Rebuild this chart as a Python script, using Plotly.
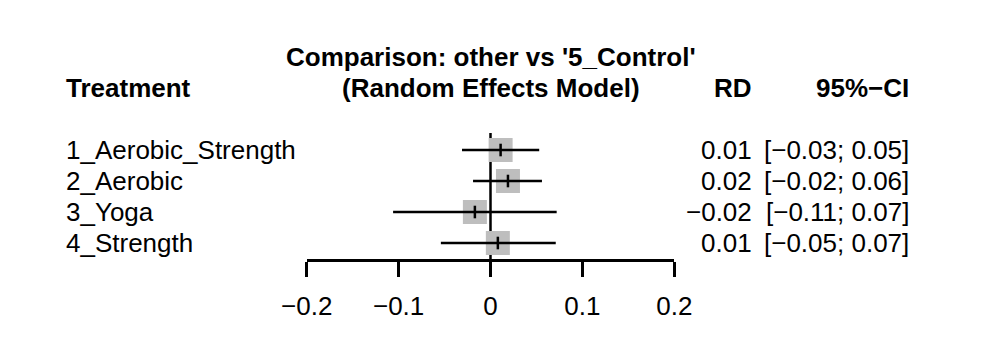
import plotly.graph_objects as go

# ---- data ----
treatments = ["1_Aerobic_Strength", "2_Aerobic", "3_Yoga", "4_Strength"]
rd = [0.011, 0.019, -0.017, 0.008]
ci_lower = [-0.031, -0.019, -0.106, -0.054]
ci_upper = [0.053, 0.056, 0.072, 0.071]
tick_vals = [-0.2, -0.1, 0, 0.1, 0.2]
tick_text = ["\u22120.2", "\u22120.1", "0", "0.1", "0.2"]
title_lines = ["Comparison: other vs '5_Control'", "(Random Effects Model)"]
col_headers = ["Treatment", "RD", "95%\u2212CI"]


def fmt(v):
    return f"{v:.2f}".replace("-", "\u2212")


rows = list(range(1, len(treatments) + 1))
FONT = "Liberation Sans, Arial, sans-serif"
FS = 26
BLACK = "#000000"
GRAY = "#BEBEBE"
W, H = 989, 347  # page has an 8px body margin

fig = go.Figure()

# reference line at 0
fig.add_trace(go.Scatter(x=[0, 0], y=[0.45, 4.516], mode="lines",
                         line=dict(color=BLACK, width=2.5),
                         xaxis="x2", yaxis="y2", hoverinfo="skip", showlegend=False,
                         cliponaxis=False))

# squares
fig.add_trace(go.Scatter(x=rd, y=rows, mode="markers",
                         marker=dict(symbol="square", size=24, color=GRAY, line=dict(width=0)),
                         xaxis="x2", yaxis="y2", showlegend=False, cliponaxis=False))

# CI lines
cx, cy = [], []
for lo, hi, r in zip(ci_lower, ci_upper, rows):
    cx += [lo, hi, None]
    cy += [r, r, None]
fig.add_trace(go.Scatter(x=cx, y=cy, mode="lines", line=dict(color=BLACK, width=2.5),
                         xaxis="x2", yaxis="y2", showlegend=False, cliponaxis=False))

# point estimate ticks
fig.add_trace(go.Scatter(x=rd, y=rows, mode="markers",
                         marker=dict(symbol="line-ns", size=9, line=dict(color=BLACK, width=2.5)),
                         xaxis="x2", yaxis="y2", showlegend=False, cliponaxis=False))

X_LEFT = (64 - 8) / W
X_RD = (754 - 8) / W
X_CI = (911 - 8) / W

ann = []
for i, t in enumerate(title_lines):
    ann.append(dict(x=0, y=-2 + i, xref="x2", yref="y2", text=f"<b>{t}</b>",
                    xanchor="center", yanchor="middle", showarrow=False))
ann.append(dict(x=X_LEFT, y=-1, xref="paper", yref="y2", text=f"<b>{col_headers[0]}</b>",
                xanchor="left", yanchor="middle", showarrow=False))
ann.append(dict(x=X_RD, y=-1, xref="paper", yref="y2", text=f"<b>{col_headers[1]}</b>",
                xanchor="right", yanchor="middle", showarrow=False))
ann.append(dict(x=X_CI, y=-1, xref="paper", yref="y2", text=f"<b>{col_headers[2]}</b>",
                xanchor="right", yanchor="middle", showarrow=False))
for name, v, lo, hi, r in zip(treatments, rd, ci_lower, ci_upper, rows):
    ann.append(dict(x=X_LEFT, y=r, xref="paper", yref="y2", text=name,
                    xanchor="left", yanchor="middle", showarrow=False))
    ann.append(dict(x=X_RD, y=r, xref="paper", yref="y2", text=fmt(v),
                    xanchor="right", yanchor="middle", showarrow=False))
    ann.append(dict(x=X_CI, y=r, xref="paper", yref="y2", text=f"[{fmt(lo)}; {fmt(hi)}]",
                    xanchor="right", yanchor="middle", showarrow=False))

ax_bottom = (H - (259 - 8)) / H

fig.update_layout(
    template="none",
    width=W, height=H, autosize=False, margin=dict(l=0, r=0, t=0, b=0, pad=0),
    paper_bgcolor="white", plot_bgcolor="rgba(0,0,0,0)",
    font=dict(family=FONT, size=FS, color=BLACK),
    showlegend=False,
    annotations=ann,
    xaxis=dict(visible=False, automargin=False),
    yaxis=dict(visible=False, automargin=False),
    xaxis2=dict(domain=[(306.7 - 8) / W, (674.3 - 8) / W], range=[-0.2, 0.2], anchor="y2",
                automargin=False,
                showline=True, linecolor=BLACK, linewidth=2.5,
                ticks="outside", ticklen=15, tickwidth=2.5, tickcolor=BLACK,
                ticklabelstandoff=7,
                tickvals=tick_vals, ticktext=tick_text, showgrid=False, zeroline=False,
                tickfont=dict(family=FONT, size=FS, color=BLACK)),
    yaxis2=dict(domain=[ax_bottom, 1], range=[4.516, -3.581], anchor="x2",
                automargin=False, visible=False, showgrid=False, zeroline=False),
)

fig.write_html("out.html")
